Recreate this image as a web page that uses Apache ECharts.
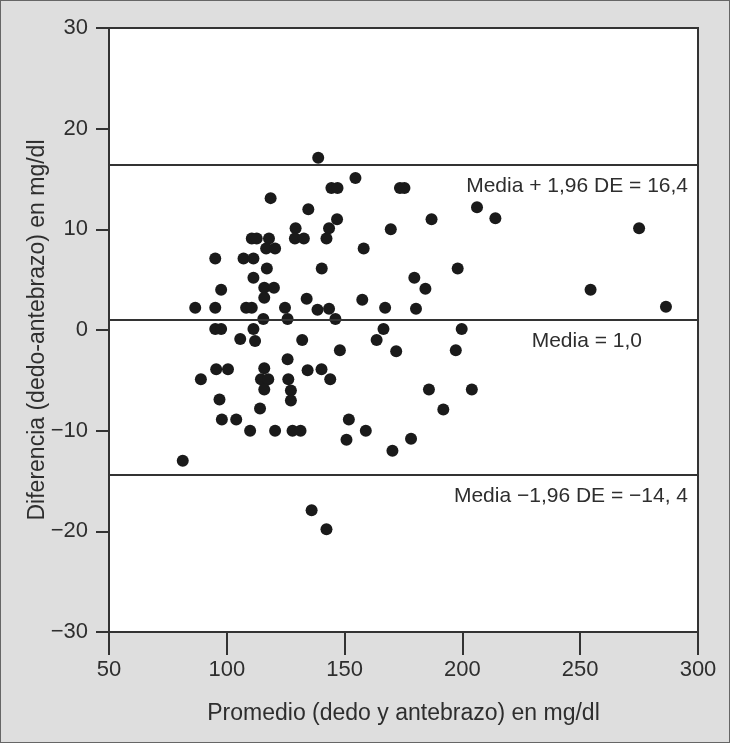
<!DOCTYPE html>
<html>
<head>
<meta charset="utf-8">
<script src="https://cdn.jsdelivr.net/npm/echarts@6/dist/echarts.min.js"></script>
<style>
  html, body { margin: 0; padding: 0; background: #dedede; }
  #chart { width: 730px; height: 743px; box-sizing: border-box; border: 1px solid #666; }
</style>
</head>
<body>
<div id="chart"></div>
<script>
// promedio (x) y diferencia (y) de cada paciente
let promedio = [
  138.8, 154.6, 144.4, 147.0, 173.5, 175.4, 118.6, 134.6, 206.2, 146.8,
  186.9, 214.0, 129.2, 143.4, 169.6, 275.0, 110.6, 112.7, 117.9, 128.9,
  132.7, 142.3, 116.7, 120.5, 158.1, 95.1, 107.1, 111.3, 117.0, 140.3,
  198.0, 111.3, 179.6, 97.6, 115.9, 120.0, 184.3, 254.4, 115.9, 133.9,
  157.5, 86.6, 95.1, 108.2, 110.6, 124.7, 138.5, 143.4, 167.2, 180.3,
  286.4, 115.5, 125.8, 146.1, 95.1, 97.6, 111.3, 166.5, 199.7, 105.7,
  112.0, 132.0, 163.6, 148.0, 171.9, 197.2, 125.8, 95.5, 100.5, 115.9,
  134.3, 140.2, 89.0, 114.5, 117.6, 126.1, 143.9, 115.9, 127.2, 185.8,
  204.0, 96.9, 127.2, 114.1, 191.9, 97.9, 104.0, 151.8, 109.9, 120.5,
  127.9, 131.3, 159.0, 150.8, 178.2, 170.3, 81.3, 136.0, 142.3
]
let diferencia = [
  17.1, 15.1, 14.1, 14.1, 14.1, 14.1, 13.1, 12.0, 12.2, 11.0,
  11.0, 11.1, 10.1, 10.1, 10.0, 10.1, 9.1, 9.1, 9.1, 9.1,
  9.1, 9.1, 8.1, 8.1, 8.1, 7.1, 7.1, 7.1, 6.1, 6.1,
  6.1, 5.2, 5.2, 4.0, 4.2, 4.2, 4.1, 4.0, 3.2, 3.1,
  3.0, 2.2, 2.2, 2.2, 2.2, 2.2, 2.0, 2.1, 2.2, 2.1,
  2.3, 1.1, 1.1, 1.1, 0.1, 0.1, 0.1, 0.1, 0.1, -0.9,
  -1.1, -1.0, -1.0, -2.0, -2.1, -2.0, -2.9, -3.9, -3.9, -3.8,
  -4.0, -3.9, -4.9, -4.9, -4.9, -4.9, -4.9, -5.9, -6.0, -5.9,
  -5.9, -6.9, -7.0, -7.8, -7.9, -8.9, -8.9, -8.9, -10.0, -10.0,
  -10.0, -10.0, -10.0, -10.9, -10.8, -12.0, -13.0, -17.9, -19.8
]

// media y límites de concordancia
let limites = [16.4, 1.0, -14.4]
let limiteTextos = ['Media + 1,96 DE = 16,4', 'Media = 1,0', 'Media \u22121,96 DE = \u221214, 4']

let xTicks = [50, 300, 50]
let yTicks = [-30, 30, 10]

let fuente = 'Liberation Sans, Arial, sans-serif'
let tinta = '#2e2e2e'

let puntos = promedio.map(function (x, i) {
  return [x, diferencia[i]]
})

let lineas = limites.map(function (v, i) {
  return {
    yAxis: v,
    label: {
      formatter: limiteTextos[i],
      // el texto de la media no llega al borde derecho
      padding: i === 1 ? [0, 46, 0, 0] : [0, 0, 0, 0]
    }
  }
})

let chart = echarts.init(document.getElementById('chart'))
chart.setOption({
  backgroundColor: '#dedede',
  animation: false,
  textStyle: { fontFamily: fuente },
  grid: {
    left: 108,
    right: 31,
    top: 27,
    bottom: 110,
    show: true,
    backgroundColor: '#ffffff',
    borderColor: '#333',
    borderWidth: 2
  },
  xAxis: {
    type: 'value',
    min: xTicks[0],
    max: xTicks[1],
    interval: xTicks[2],
    name: 'Promedio (dedo y antebrazo) en mg/dl',
    nameLocation: 'middle',
    nameGap: 70,
    nameMoveOverlap: false,
    nameTextStyle: { fontSize: 23, color: tinta, fontFamily: fuente },
    axisLine: { show: true, onZero: false, lineStyle: { color: '#333', width: 2 } },
    axisTick: { show: true, length: 23, lineStyle: { color: '#333', width: 2 } },
    axisLabel: { fontSize: 22, color: tinta, margin: 27, fontFamily: fuente },
    splitLine: { show: false }
  },
  yAxis: {
    type: 'value',
    min: yTicks[0],
    max: yTicks[1],
    interval: yTicks[2],
    name: 'Diferencia (dedo-antebrazo) en mg/dl',
    nameLocation: 'middle',
    nameGap: 60,
    nameMoveOverlap: false,
    nameTextStyle: { fontSize: 23, color: tinta, fontFamily: fuente },
    axisLine: { show: true, onZero: false, lineStyle: { color: '#333', width: 2 } },
    axisTick: { show: true, length: 13, lineStyle: { color: '#333', width: 2 } },
    axisLabel: {
      fontSize: 22,
      color: tinta,
      margin: 21,
      fontFamily: fuente,
      formatter: function (v) {
        return v < 0 ? '\u2212' + Math.abs(v) : String(v)
      }
    },
    splitLine: { show: false }
  },
  series: [{
    type: 'scatter',
    data: puntos,
    symbolSize: 12,
    itemStyle: { color: '#1a1a1a', opacity: 1 },
    markLine: {
      silent: true,
      symbol: ['none', 'none'],
      lineStyle: { color: '#333', width: 2, type: 'solid' },
      label: {
        show: true,
        position: 'insideEndBottom',
        distance: [10, 11],
        fontSize: 21,
        color: tinta,
        fontFamily: fuente
      },
      data: lineas
    }
  }]
})
</script>
</body>
</html>
